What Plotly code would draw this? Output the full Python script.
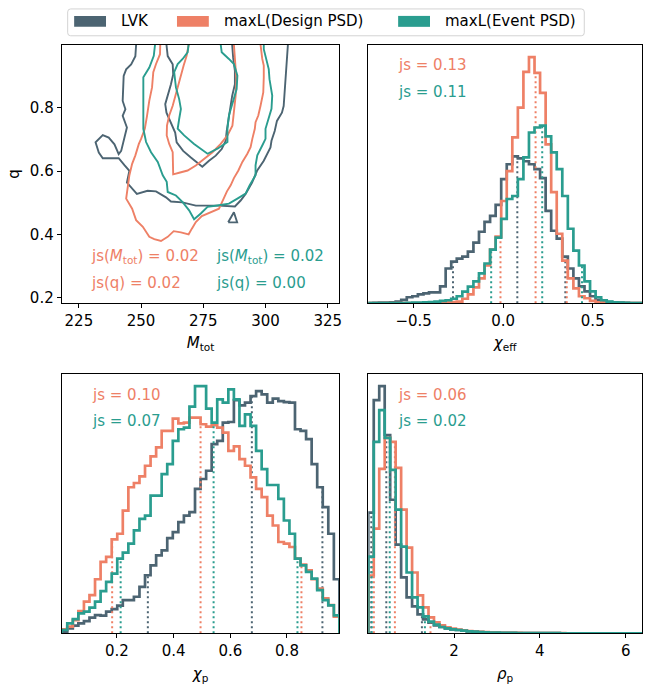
import numpy as np
import plotly.graph_objects as go

# ---------------- colours / names ----------------
SERIES = ["LVK", "maxL(Design PSD)", "maxL(Event PSD)"]
COLORS = ["#4c6472", "#ee8066", "#2a9d8f"]

# ---------------- chi_eff histograms (50 bins) ----------------
chi_eff_edges = [0.02 + 0.031 * k for k in range(-25, 26)]
chi_eff_lvk = [0.2, 0.3, 0.5, 0.7, 1.0, 1.7, 3.3, 6, 7, 9, 10, 11, 11, 17, 35, 42, 45, 47, 52, 61,
               72, 82, 88, 99, 125, 140, 148, 146, 143, 140, 135, 126, 93, 73, 65, 47, 35, 25, 17, 12,
               7, 3.5, 2, 1.2, 0.8, 0.5, 0.3, 0.2, 0.1, 0.1]
chi_eff_design = [0, 0, 0, 0, 0, 0, 0, 0, 0, 0, 0.1, 0.2, 0.3, 0.5, 0.8, 1.2, 1.7, 4.5, 9, 16,
                  25, 38, 54, 67, 103, 133, 167, 197, 233, 248, 232, 212, 160, 112, 70, 43, 25, 15, 7, 5,
                  2.3, 1, 0.5, 0.3, 0.2, 0.1, 0, 0, 0, 0]
chi_eff_event = [0, 0, 0, 0, 0, 0.1, 0.2, 0.3, 0.5, 0.7, 0.9, 1.2, 1.7, 2.3, 3, 4.5, 7, 11.7, 16.7, 22,
                 30, 40, 54, 66, 85, 105, 108, 125, 147, 172, 177, 179, 168, 152, 135, 108, 75, 53, 38, 22,
                 12, 6, 3, 1.7, 1, 0.5, 0.3, 0.2, 0.1, 0]
chi_eff_pct = [[-0.28, 0.079, 0.347], [-0.015, 0.181, 0.355], [-0.067, 0.218, 0.44]]
chi_eff_js = ["js = 0.13", "js = 0.11"]

# ---------------- chi_p histograms (50 bins) ----------------
chi_p_edges = [0.005 + 0.0196 * k for k in range(51)]
chi_p_lvk = [1.7, 5, 7.7, 10, 12.3, 15.7, 18.3, 17.7, 21.7, 24.3, 27.7, 33.3, 33.3, 36.7, 46.7, 58.3, 68.3,
             78.3, 83.3, 95.7, 101.7, 111.7, 118.3, 121.7, 145, 155, 163.3, 190, 193.3, 211.7, 212.3, 234.3,
             229, 231.7, 238.3, 243.3, 240, 231.7, 235.7, 233.3, 232.3, 231.7, 205, 203.3, 195, 170, 146.7,
             126.7, 100, 54.3]
chi_p_design = [4, 6.7, 13.3, 22.3, 31.7, 38.3, 54.3, 71.7, 76.7, 94.3, 100, 123.3, 146.7, 151, 157.7, 168.3,
                177.7, 186.7, 203.3, 203.3, 215.7, 211, 211.7, 216.7, 216.7, 210, 207.7, 209, 206.7, 201.7,
                183.3, 187.7, 175, 168.3, 156.7, 145, 136.7, 118.3, 108.3, 91.7, 90, 86.7, 75, 69, 63.3, 54.3,
                45, 35, 28.3, 16.7]
chi_p_event = [3.3, 10, 14.3, 20, 21.7, 25.7, 31.7, 42.3, 51.7, 60, 75, 81, 90, 103.3, 115, 118.3, 138.3,
               138.3, 160, 170, 193.3, 205, 206.7, 227.7, 248.3, 248.3, 225.7, 211.7, 235, 231.7, 245, 235,
               208.3, 220, 208.3, 183.3, 165, 149, 149, 135, 113.3, 100, 75, 68.3, 61.7, 55, 43.3, 33.3, 28, 18]
chi_p_pct = [[0.309, 0.676, 0.925], [0.183, 0.495, 0.851], [0.213, 0.541, 0.837]]
chi_p_js = ["js = 0.10", "js = 0.07"]

# ---------------- rho_p histograms (50 bins) ----------------
rho_p_edges = [0.1276 * k for k in range(51)]
rho_p_lvk = [121, 234, 248, 199, 134, 89, 56, 36, 27, 19, 14, 10.7, 8, 6.3, 5, 4, 3.3, 2.7, 2, 1.6, 1.3, 1.0,
             0.8, 0.6, 0.5, 0.4, 0.3, 0.25, 0.2, 0.15, 0.1, 0.1, 0.08, 0.06, 0.05, 0.04, 0.03, 0.02, 0.02,
             0.01, 0, 0, 0, 0, 0, 0, 0, 0, 0, 0]
rho_p_design = [58, 105, 165, 196, 192, 166, 124, 86, 61, 38, 26, 16, 11, 8, 6, 4.7, 3.7, 3, 2.3, 1.8, 1.4,
                1.1, 0.9, 0.7, 0.55, 0.45, 0.35, 0.3, 0.25, 0.2, 0.15, 0.12, 0.1, 0.08, 0.06, 0.05, 0.04,
                0.03, 0.02, 0.02, 0.01, 0.01, 0, 0, 0, 0, 0, 0, 0, 0]
rho_p_event = [77, 192, 224, 196, 164, 124, 87, 61, 36, 26, 17, 11.7, 8.7, 6.3, 5, 4, 3.3, 2.6, 2, 1.6, 1.3,
               1, 0.8, 0.6, 0.5, 0.4, 0.3, 0.25, 0.2, 0.15, 0.12, 0.1, 0.08, 0.06, 0.05, 0.04, 0.03, 0.02,
               0.02, 0.01, 0.01, 0.01, 0, 0, 0, 0, 0, 0, 0, 0]
rho_p_pct = [[0.07, 0.42, 1.25], [0.13, 0.62, 1.45], [0.08, 0.50, 1.32]]
rho_p_js = ["js = 0.06", "js = 0.02"]

# ---------------- M_tot - q contours ----------------
lvk_outer_M = [248.0, 247.7, 246.0, 244.0, 243.0, 242.6, 242.6, 243.7, 242.6, 244.3, 243.6, 243.0, 242.0, 241.0,
               239.3, 237.0, 234.6, 231.7, 233.0, 234.6, 241.0, 243.3, 245.3, 244.3, 246.0, 248.3, 252.6, 256.0,
               260.0, 262.0, 266.6, 272.0, 281.3, 287.7, 290.0, 292.0, 294.6, 296.6, 299.3, 300.6, 302.0, 302.4,
               303.7, 304.6, 306.6, 307.3, 307.7, 308.2, 308.6, 309.0]
lvk_outer_q = [1.0, 0.964, 0.938, 0.922, 0.901, 0.854, 0.822, 0.796, 0.775, 0.738, 0.712, 0.691, 0.664, 0.654,
               0.685, 0.706, 0.714, 0.691, 0.659, 0.641, 0.641, 0.619, 0.601, 0.564, 0.549, 0.528, 0.538, 0.536,
               0.517, 0.504, 0.501, 0.491, 0.491, 0.488, 0.507, 0.528, 0.564, 0.601, 0.633, 0.654, 0.675, 0.696,
               0.727, 0.759, 0.785, 0.806, 0.854, 0.927, 0.969, 1.0]
lvk_island_M = [285.0, 287.3, 288.6, 285.0]
lvk_island_q = [0.438, 0.470, 0.438, 0.438]
lvk_inner_M = [260.2, 260.7, 262.7, 262.9, 262.0, 260.7, 259.7, 260.2, 262.0, 263.7, 264.3, 266.9, 270.0,
               272.6, 274.6, 277.3, 280.0, 282.4, 284.0, 284.4, 285.0, 285.7, 286.6, 287.7, 287.7, 287.0, 286.6]
lvk_inner_q = [1.0, 0.964, 0.938, 0.906, 0.875, 0.843, 0.812, 0.785, 0.754, 0.722, 0.691, 0.664, 0.643,
               0.627, 0.614, 0.633, 0.649, 0.670, 0.696, 0.727, 0.759, 0.801, 0.838, 0.875, 0.917, 0.959, 1.0]
design_outer_M = [257.7, 257.6, 256.0, 254.9, 254.4, 253.3, 252.4, 251.5, 250.0, 249.1, 247.7, 246.4, 245.3,
                  244.7, 244.0, 246.4, 248.0, 250.7, 253.3, 255.3, 258.0, 260.7, 263.1, 266.0, 269.1, 270.4,
                  272.0, 274.4, 276.7, 279.3, 281.3, 282.9, 284.5, 286.0, 287.3, 289.1, 290.7, 292.7, 294.0,
                  294.7, 295.7, 296.0, 297.1, 298.0, 299.1, 299.3, 299.3, 298.7, 298.4, 298.0]
design_outer_q = [1.0, 0.970, 0.939, 0.913, 0.865, 0.823, 0.776, 0.734, 0.702, 0.686, 0.650, 0.623, 0.587,
                  0.555, 0.513, 0.481, 0.445, 0.424, 0.392, 0.385, 0.379, 0.392, 0.410, 0.406, 0.400, 0.418,
                  0.439, 0.458, 0.465, 0.473, 0.481, 0.508, 0.536, 0.555, 0.578, 0.602, 0.629, 0.655, 0.676,
                  0.702, 0.734, 0.755, 0.776, 0.807, 0.849, 0.897, 0.934, 0.955, 0.970, 1.0]
design_inner_M = [269.1, 268.3, 267.1, 266.0, 264.7, 263.7, 262.7, 261.3, 260.4, 260.3, 261.3, 262.7, 262.9,
                  262.9, 265.3, 268.7, 272.0, 275.3, 278.7, 282.0, 284.7, 286.7, 287.3, 288.0, 288.3, 288.0,
                  287.7, 287.3]
design_inner_q = [1.0, 0.965, 0.934, 0.902, 0.865, 0.839, 0.807, 0.776, 0.744, 0.713, 0.686, 0.660, 0.618,
                  0.590, 0.595, 0.602, 0.618, 0.639, 0.660, 0.686, 0.713, 0.744, 0.786, 0.839, 0.891, 0.934,
                  0.965, 1.0]
event_outer_M = [255.6, 255.1, 253.3, 250.9, 250.9, 250.9, 250.9, 252.0, 254.0, 256.7, 258.7, 260.3, 260.7,
                 264.0, 266.7, 269.3, 271.3, 274.0, 276.7, 281.3, 285.3, 288.7, 292.0, 293.6, 296.0, 296.0,
                 296.7, 298.7, 300.0, 300.0, 301.1, 302.4, 302.7, 302.0, 301.6, 301.3, 300.0, 299.3, 299.3]
event_outer_q = [1.0, 0.965, 0.928, 0.897, 0.839, 0.776, 0.734, 0.692, 0.660, 0.629, 0.587, 0.566, 0.534,
                 0.523, 0.502, 0.476, 0.448, 0.466, 0.487, 0.492, 0.497, 0.513, 0.529, 0.555, 0.587, 0.618,
                 0.650, 0.681, 0.702, 0.734, 0.765, 0.797, 0.839, 0.865, 0.891, 0.923, 0.960, 0.986, 1.0]
event_inner_M = [269.1, 268.7, 266.7, 264.7, 263.3, 264.0, 265.3, 266.0, 265.3, 264.7, 267.3, 271.3, 276.7,
                 280.7, 284.7, 284.7, 285.3, 286.7, 288.4, 288.7, 287.3, 285.3, 282.4, 282.0]
event_inner_q = [1.0, 0.976, 0.955, 0.939, 0.913, 0.865, 0.828, 0.797, 0.765, 0.734, 0.713, 0.686, 0.655,
                 0.671, 0.692, 0.734, 0.776, 0.818, 0.860, 0.902, 0.939, 0.955, 0.976, 1.0]
contour_js = [["js(<i>M</i><sub>tot</sub>) = 0.02", "js(q) = 0.02"],
              ["js(<i>M</i><sub>tot</sub>) = 0.02", "js(q) = 0.00"]]

M_ticks = [225, 250, 275, 300, 325]
q_ticks = [0.2, 0.4, 0.6, 0.8]
chi_eff_ticks = [-0.5, 0.0, 0.5]
chi_p_ticks = [0.2, 0.4, 0.6, 0.8]
rho_p_ticks = [2, 4, 6]

# ---------------- figure ----------------
W, H = 645, 684
FONT = "DejaVu Sans"
FS = 15
fig = go.Figure()


def step_xy(edges, h):
    xs = [edges[0]] + list(edges[:-1]) + [edges[-1], edges[-1]]
    ys = [0] + list(h) + [h[-1], 0]
    return xs, ys


def add_hist(edges, hists, pcts, xa, ya):
    for h, p, c in zip(hists, pcts, COLORS):
        xs, ys = step_xy(edges, h)
        fig.add_trace(go.Scatter(x=xs, y=ys, mode="lines", line=dict(color=c, width=2.7, shape="hv"),
                                 xaxis=xa, yaxis=ya, showlegend=False, hoverinfo="skip"))
        e = np.array(edges)
        for v in p:
            i = int(np.clip(np.searchsorted(e, v) - 1, 0, len(h) - 1))
            fig.add_trace(go.Scatter(x=[v, v], y=[0, h[i]], mode="lines",
                                     line=dict(color=c, width=2, dash="2px,3px"),
                                     xaxis=xa, yaxis=ya, showlegend=False, hoverinfo="skip"))


# contours
contours = [
    (lvk_outer_M, lvk_outer_q, COLORS[0]), (lvk_inner_M, lvk_inner_q, COLORS[0]),
    (lvk_island_M, lvk_island_q, COLORS[0]),
    (design_outer_M, design_outer_q, COLORS[1]), (design_inner_M, design_inner_q, COLORS[1]),
    (event_outer_M, event_outer_q, COLORS[2]), (event_inner_M, event_inner_q, COLORS[2]),
]
for mx, qy, c in contours:
    fig.add_trace(go.Scatter(x=mx, y=qy, mode="lines", line=dict(color=c, width=1.9),
                             xaxis="x", yaxis="y", showlegend=False, hoverinfo="skip"))

add_hist(chi_eff_edges, [chi_eff_lvk, chi_eff_design, chi_eff_event], chi_eff_pct, "x2", "y2")
add_hist(chi_p_edges, [chi_p_lvk, chi_p_design, chi_p_event], chi_p_pct, "x3", "y3")
add_hist(rho_p_edges, [rho_p_lvk, rho_p_design, rho_p_event], rho_p_pct, "x4", "y4")

xl, xr = 62 / W, 341 / W
xl2 = 370 / W
yt_top, yt_bot = 1 - 45 / H, 1 - 305 / H
yb_top, yb_bot = 1 - 376 / H, 1 - 637 / H

axis_common = dict(showline=True, linecolor="black", linewidth=1, mirror=True, showgrid=False,
                   zeroline=False, ticks="outside", ticklen=4, tickwidth=1, tickcolor="black",
                   tickfont=dict(family=FONT, size=FS, color="black"))
hidden_y = dict(showline=True, linecolor="black", linewidth=1, mirror=True, showgrid=False,
                zeroline=False, ticks="", showticklabels=False)


def title(t, standoff):
    return dict(text=t, font=dict(family=FONT, size=FS, color="black"), standoff=standoff)


def ymax(*hs):
    return 1.05 * max(max(h) for h in hs)


fig.update_layout(
    width=W, height=H, margin=dict(l=0, r=0, t=0, b=0),
    paper_bgcolor="white", plot_bgcolor="white", showlegend=False,
    font=dict(family=FONT, size=FS, color="black"),
    xaxis=dict(domain=[xl, xr], range=[218.1, 329.7], tickvals=M_ticks, anchor="y",
               title=title("<i>M</i><sub>tot</sub>", 8), **axis_common),
    yaxis=dict(domain=[yt_bot, yt_top], range=[0.182, 1.0], tickvals=q_ticks, tickformat=".1f",
               anchor="x", title=title("q", 6), **axis_common),
    xaxis2=dict(domain=[xl2, 1.0], range=[-0.753, 0.775], tickvals=chi_eff_ticks, tickformat=".1f",
                anchor="y2", title=title("<i>χ</i><sub>eff</sub>", 8), **axis_common),
    yaxis2=dict(domain=[yt_bot, yt_top], range=[0, ymax(chi_eff_lvk, chi_eff_design, chi_eff_event)],
                anchor="x2", **hidden_y),
    xaxis3=dict(domain=[xl, xr], range=[chi_p_edges[0], chi_p_edges[-1]], tickvals=chi_p_ticks,
                tickformat=".1f", anchor="y3", title=title("<i>χ</i><sub>p</sub>", 11), **axis_common),
    yaxis3=dict(domain=[yb_bot, yb_top], range=[0, ymax(chi_p_lvk, chi_p_design, chi_p_event)],
                anchor="x3", **hidden_y),
    xaxis4=dict(domain=[xl2, 1.0], range=[0, 6.38], tickvals=rho_p_ticks, anchor="y4",
                title=title("<i>ρ</i><sub>p</sub>", 11), **axis_common),
    yaxis4=dict(domain=[yb_bot, yb_top], range=[0, ymax(rho_p_lvk, rho_p_design, rho_p_event)],
                anchor="x4", **hidden_y),
)

ann = []
shapes = []
for j, col in enumerate([COLORS[1], COLORS[2]]):
    for i, t in enumerate(contour_js[j]):
        ann.append(dict(text=t, x=0.10 + 0.448 * j, y=0.18 - 0.10 * i, xref="x domain", yref="y domain",
                        xanchor="left", yanchor="middle", showarrow=False,
                        font=dict(family=FONT, size=FS, color=col)))
for (xa, ya, texts) in [("x2", "y2", chi_eff_js), ("x3", "y3", chi_p_js), ("x4", "y4", rho_p_js)]:
    for i, t in enumerate(texts):
        ann.append(dict(text=t, x=0.102, y=0.92 - 0.103 * i, xref=xa + " domain", yref=ya + " domain",
                        xanchor="left", yanchor="middle", showarrow=False,
                        font=dict(family=FONT, size=FS, color=COLORS[1 + i])))


# legend (frame, colour patches, labels)
def px(x):
    return x / W


def py(y):
    return 1 - y / H


bx0, bx1, by0, by1, r = 68, 587, 9, 36, 3
path = (f"M {px(bx0 + r)},{py(by0)} L {px(bx1 - r)},{py(by0)} Q {px(bx1)},{py(by0)} {px(bx1)},{py(by0 + r)} "
        f"L {px(bx1)},{py(by1 - r)} Q {px(bx1)},{py(by1)} {px(bx1 - r)},{py(by1)} "
        f"L {px(bx0 + r)},{py(by1)} Q {px(bx0)},{py(by1)} {px(bx0)},{py(by1 - r)} "
        f"L {px(bx0)},{py(by0 + r)} Q {px(bx0)},{py(by0)} {px(bx0 + r)},{py(by0)} Z")
shapes.append(dict(type="path", path=path, xref="paper", yref="paper", fillcolor="white",
                   line=dict(color="#d3d3d3", width=1), layer="above"))
patch_x = [74.5, 177.8, 400.0]
text_x = [120.0, 223.0, 445.5]
for name, c, sx, tx in zip(SERIES, COLORS, patch_x, text_x):
    shapes.append(dict(type="rect", xref="paper", yref="paper", x0=px(sx), x1=px(sx + 32),
                       y0=py(27), y1=py(16), fillcolor=c, line=dict(width=0), layer="above"))
    ann.append(dict(text=name, x=px(tx), y=py(21.5), xref="paper", yref="paper", xanchor="left",
                    yanchor="middle", showarrow=False, font=dict(family=FONT, size=FS, color="black")))

fig.update_layout(annotations=ann, shapes=shapes)

fig.write_html("out.html", config={"displayModeBar": False},
               post_script="document.body.style.margin='0';")
